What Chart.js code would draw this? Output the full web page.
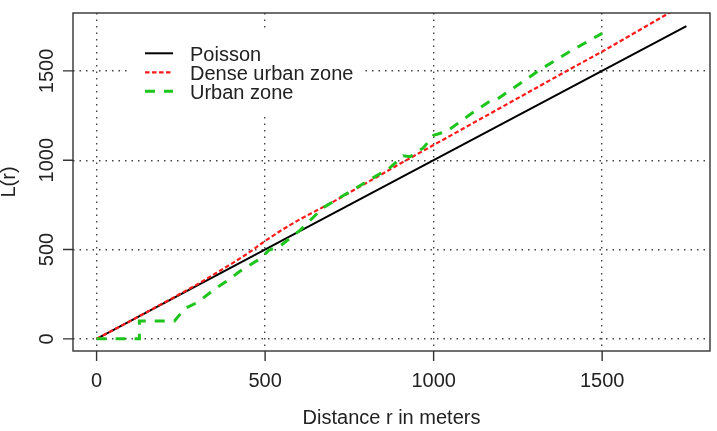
<!DOCTYPE html>
<html><head><meta charset="utf-8">
<script src="https://cdn.jsdelivr.net/npm/chart.js@4.4.1/dist/chart.umd.min.js"></script>
<style>html,body{margin:0;padding:0;background:#fff;}#wrap{width:717px;height:431px;}</style>
</head><body><div id="wrap"><canvas id="c" width="717" height="431"></canvas></div>
<script>
const xTicks = [0, 500, 1000, 1500];
const yTicks = [0, 500, 1000, 1500];
const poissonR = [0, 1750];
const poissonL = [0, 1750];
const denseR = [0, 100, 200, 300, 400, 450, 500, 550, 600, 700, 800, 900, 1000, 1100, 1200, 1300, 1400, 1500, 1600, 1700, 1750];
const denseL = [0, 100, 202, 306, 420, 480, 548, 610, 666, 765, 872, 980, 1085, 1190, 1295, 1400, 1505, 1608, 1717, 1826, 1880];
const urbanR = [0, 127, 127, 231, 262, 300, 355, 395, 425, 490, 510, 545, 605, 672, 721, 771, 820, 870, 910, 930, 970, 1000, 1040, 1108, 1167, 1187, 1266, 1316, 1405, 1500];
const urbanL = [0, 0, 100, 100, 170, 205, 285, 335, 378, 455, 495, 520, 610, 734, 790, 846, 901, 957, 1025, 1020, 1070, 1140, 1162, 1256, 1330, 1340, 1442, 1507, 1610, 1710];
const seriesNames = ['Poisson', 'Dense urban zone', 'Urban zone'];
const xTitle = 'Distance r in meters';
const yTitle = 'L(r)';

const pts = (xs, ys) => xs.map((v, i) => ({x: v, y: ys[i]}));
const FONT = '20px "Liberation Sans", Arial, sans-serif';
const TXT = '#222';

const legendBg = {
  id: 'legendBg',
  beforeDatasetsDraw(chart) {
    const ctx = chart.ctx;
    ctx.save(); ctx.fillStyle = '#ffffff'; ctx.fillRect(131, 32, 234, 80); ctx.restore();
  }
};

const rAxes = {
  id: 'rAxes',
  afterDraw(chart) {
    const {ctx, chartArea: a, scales: {x, y}} = chart;
    ctx.save();
    ctx.strokeStyle = '#333'; ctx.lineWidth = 1.4; ctx.setLineDash([]);
    ctx.strokeRect(a.left, a.top, a.right - a.left, a.bottom - a.top);
    ctx.beginPath();
    xTicks.forEach(v => { const px = x.getPixelForValue(v); ctx.moveTo(px, a.bottom); ctx.lineTo(px, a.bottom + 10); });
    yTicks.forEach(v => { const py = y.getPixelForValue(v); ctx.moveTo(a.left, py); ctx.lineTo(a.left - 10, py); });
    ctx.stroke();
    ctx.fillStyle = TXT; ctx.font = FONT; ctx.textAlign = 'center'; ctx.textBaseline = 'alphabetic';
    xTicks.forEach(v => ctx.fillText(String(v), x.getPixelForValue(v), 387));
    ctx.fillText(xTitle, (a.left + a.right) / 2, 424);
    yTicks.forEach(v => { ctx.save(); ctx.translate(53, y.getPixelForValue(v)); ctx.rotate(-Math.PI / 2); ctx.fillText(String(v), 0, 0); ctx.restore(); });
    ctx.save(); ctx.translate(15, (a.top + a.bottom) / 2); ctx.rotate(-Math.PI / 2); ctx.fillText(yTitle, 0, 0); ctx.restore();
    seriesNames.forEach((name, i) => {
      const ds = chart.data.datasets.find(d => d.label === name);
      const ly = 53.3 + i * 19;
      ctx.beginPath();
      ctx.strokeStyle = ds.borderColor; ctx.lineWidth = ds.borderWidth;
      ctx.setLineDash(ds.borderDash || []);
      ctx.moveTo(145, ly); ctx.lineTo(173, ly); ctx.stroke();
      ctx.setLineDash([]);
      ctx.textAlign = 'left'; ctx.fillStyle = TXT;
      ctx.fillText(name, 190, ly + 7.5);
    });
    ctx.restore();
  }
};

const gridCommon = {color: '#444', lineWidth: 1.4, drawTicks: false};
new Chart(document.getElementById('c'), {
  type: 'line',
  data: {
    datasets: [
      {label: seriesNames[2], data: pts(urbanR, urbanL), borderColor: '#1cc41c', borderWidth: 3, borderDash: [10, 9], pointRadius: 0, tension: 0, fill: false, order: 0},
      {label: seriesNames[1], data: pts(denseR, denseL), borderColor: '#ff1a1a', borderWidth: 2.2, borderDash: [4.5, 2.5], pointRadius: 0, tension: 0, fill: false, order: 1},
      {label: seriesNames[0], data: pts(poissonR, poissonL), borderColor: '#000000', borderWidth: 2, pointRadius: 0, tension: 0, fill: false, order: 2}
    ]
  },
  options: {
    responsive: false, animation: false, devicePixelRatio: 1,
    layout: {padding: {left: 73, top: 13, right: 7, bottom: 80}},
    plugins: {legend: {display: false}, tooltip: {enabled: false}},
    scales: {
      x: {type: 'linear', min: -70, max: 1820, ticks: {display: false},
          afterBuildTicks: s => { s.ticks = xTicks.map(v => ({value: v})); },
          grid: gridCommon, border: {display: false, dash: [1.5, 5]}},
      y: {type: 'linear', min: -68, max: 1824, ticks: {display: false},
          afterBuildTicks: s => { s.ticks = yTicks.map(v => ({value: v})); },
          grid: gridCommon, border: {display: false, dash: [1.5, 5]}}
    }
  },
  plugins: [legendBg, rAxes]
});
</script>
</body></html>
